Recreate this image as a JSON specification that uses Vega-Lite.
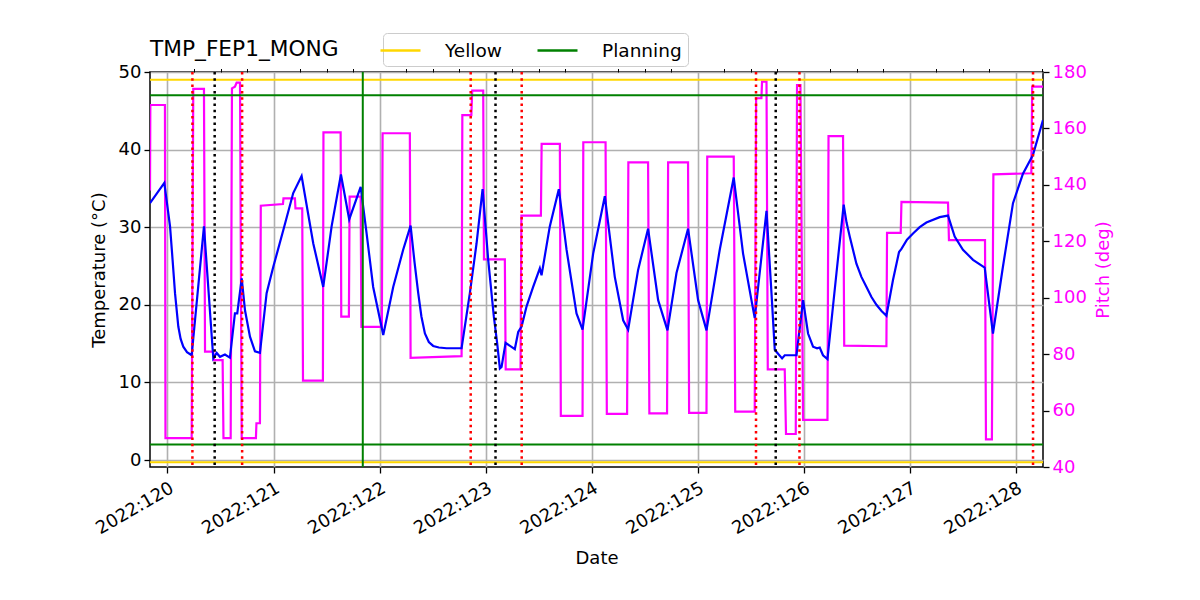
{
  "$schema": "https://vega.github.io/schema/vega-lite/v6.json",
  "width": 893,
  "height": 395,
  "autosize": {"type": "none"},
  "padding": {"left": 150, "top": 72, "right": 157, "bottom": 133},
  "background": "white",
  "title": {"text": "TMP_FEP1_MONG", "anchor": "start", "frame": "group", "fontSize": 21.7, "fontWeight": "normal", "font": "DejaVu Sans", "color": "black", "offset": -28},
  "config": {
    "font": "DejaVu Sans",
    "view": {"stroke": "black", "strokeWidth": 1.5},
    "axis": {
      "labelFont": "DejaVu Sans", "titleFont": "DejaVu Sans",
      "labelFontSize": 18, "titleFontSize": 18, "titleFontWeight": "normal",
      "labelColor": "black", "titleColor": "black", "tickColor": "black",
      "gridColor": "#b0b0b0", "gridWidth": 1.6, "tickWidth": 1.3, "tickSize": 6,
      "domain": false, "labelPadding": 3
    }
  },
  "datasets": {
    "temp": [
      {"day":119.835,"t":33.1},{"day":119.970,"t":35.7},{"day":120.024,"t":30.1},{"day":120.048,"t":25.8},{"day":120.071,"t":21.5},{"day":120.102,"t":17.2},{"day":120.124,"t":15.6},{"day":120.149,"t":14.6},{"day":120.184,"t":13.9},{"day":120.228,"t":13.5},{"day":120.344,"t":30.1},{"day":120.432,"t":13.1},{"day":120.464,"t":13.8},{"day":120.495,"t":13.3},{"day":120.542,"t":13.6},{"day":120.589,"t":13.2},{"day":120.636,"t":18.9},{"day":120.658,"t":18.9},{"day":120.700,"t":23.4},{"day":120.731,"t":19.3},{"day":120.778,"t":15.9},{"day":120.825,"t":14.0},{"day":120.872,"t":13.8},{"day":120.935,"t":21.5},{"day":120.998,"t":24.9},{"day":121.092,"t":29.6},{"day":121.186,"t":34.4},{"day":121.265,"t":36.6},{"day":121.375,"t":27.9},{"day":121.469,"t":22.3},{"day":121.548,"t":30.1},{"day":121.636,"t":36.8},{"day":121.714,"t":31.0},{"day":121.822,"t":35.2},{"day":121.878,"t":29.2},{"day":121.940,"t":22.3},{"day":122.035,"t":16.1},{"day":122.129,"t":22.3},{"day":122.223,"t":27.1},{"day":122.293,"t":30.2},{"day":122.330,"t":25.5},{"day":122.365,"t":21.5},{"day":122.395,"t":18.5},{"day":122.428,"t":16.3},{"day":122.465,"t":15.2},{"day":122.506,"t":14.7},{"day":122.560,"t":14.5},{"day":122.632,"t":14.4},{"day":122.774,"t":14.4},{"day":122.852,"t":21.5},{"day":122.915,"t":27.9},{"day":122.972,"t":34.9},{"day":123.025,"t":25.8},{"day":123.078,"t":18.5},{"day":123.110,"t":15.0},{"day":123.135,"t":11.8},{"day":123.151,"t":12.0},{"day":123.189,"t":15.1},{"day":123.276,"t":14.3},{"day":123.308,"t":16.5},{"day":123.340,"t":17.2},{"day":123.387,"t":19.8},{"day":123.449,"t":22.3},{"day":123.512,"t":24.7},{"day":123.528,"t":23.8},{"day":123.606,"t":30.1},{"day":123.691,"t":34.9},{"day":123.764,"t":27.1},{"day":123.858,"t":18.9},{"day":123.915,"t":16.8},{"day":124.015,"t":26.6},{"day":124.125,"t":34.0},{"day":124.219,"t":23.6},{"day":124.298,"t":18.0},{"day":124.345,"t":16.8},{"day":124.439,"t":24.5},{"day":124.533,"t":29.8},{"day":124.628,"t":20.6},{"day":124.716,"t":16.7},{"day":124.801,"t":24.1},{"day":124.910,"t":29.8},{"day":125.005,"t":20.6},{"day":125.084,"t":16.7},{"day":125.209,"t":27.1},{"day":125.341,"t":36.4},{"day":125.429,"t":26.6},{"day":125.508,"t":20.6},{"day":125.539,"t":18.3},{"day":125.650,"t":32.1},{"day":125.697,"t":21.5},{"day":125.728,"t":14.2},{"day":125.759,"t":13.7},{"day":125.797,"t":13.1},{"day":125.822,"t":13.5},{"day":125.933,"t":13.5},{"day":125.995,"t":20.6},{"day":126.042,"t":16.3},{"day":126.089,"t":14.6},{"day":126.127,"t":14.4},{"day":126.152,"t":14.5},{"day":126.183,"t":13.5},{"day":126.225,"t":13.0},{"day":126.310,"t":24.1},{"day":126.378,"t":32.9},{"day":126.405,"t":30.6},{"day":126.435,"t":28.8},{"day":126.498,"t":25.3},{"day":126.545,"t":23.6},{"day":126.593,"t":22.3},{"day":126.640,"t":21.0},{"day":126.687,"t":20.0},{"day":126.735,"t":19.2},{"day":126.781,"t":18.6},{"day":126.843,"t":23.2},{"day":126.900,"t":26.8},{"day":126.923,"t":27.2},{"day":126.975,"t":28.4},{"day":127.032,"t":29.2},{"day":127.095,"t":30.0},{"day":127.158,"t":30.6},{"day":127.284,"t":31.3},{"day":127.362,"t":31.5},{"day":127.425,"t":28.8},{"day":127.503,"t":27.1},{"day":127.598,"t":25.8},{"day":127.708,"t":24.8},{"day":127.786,"t":16.3},{"day":127.880,"t":24.9},{"day":127.975,"t":33.1},{"day":128.069,"t":36.9},{"day":128.163,"t":39.3},{"day":128.258,"t":43.8}
    ],
    "pitch": [
      {"day":119.835,"p":138.0},{"day":119.838,"p":168.3},{"day":119.976,"p":168.3},{"day":119.981,"p":50.2},{"day":120.228,"p":50.2},{"day":120.243,"p":174.0},{"day":120.344,"p":174.0},{"day":120.354,"p":80.9},{"day":120.432,"p":80.9},{"day":120.438,"p":77.9},{"day":120.520,"p":77.9},{"day":120.528,"p":50.2},{"day":120.596,"p":50.2},{"day":120.608,"p":174.2},{"day":120.636,"p":174.8},{"day":120.652,"p":176.2},{"day":120.684,"p":176.2},{"day":120.700,"p":50.2},{"day":120.834,"p":50.2},{"day":120.839,"p":55.5},{"day":120.872,"p":55.5},{"day":120.880,"p":132.6},{"day":121.089,"p":133.2},{"day":121.094,"p":135.2},{"day":121.202,"p":135.2},{"day":121.207,"p":131.7},{"day":121.271,"p":131.7},{"day":121.278,"p":70.6},{"day":121.466,"p":70.6},{"day":121.471,"p":158.6},{"day":121.633,"p":158.6},{"day":121.639,"p":93.3},{"day":121.711,"p":93.3},{"day":121.718,"p":135.8},{"day":121.822,"p":135.8},{"day":121.829,"p":89.7},{"day":122.022,"p":89.7},{"day":122.029,"p":158.3},{"day":122.286,"p":158.3},{"day":122.293,"p":78.7},{"day":122.774,"p":79.3},{"day":122.781,"p":164.7},{"day":122.866,"p":164.7},{"day":122.874,"p":173.4},{"day":122.978,"p":173.4},{"day":122.985,"p":113.6},{"day":123.182,"p":113.6},{"day":123.190,"p":74.6},{"day":123.330,"p":74.6},{"day":123.338,"p":129.1},{"day":123.522,"p":129.1},{"day":123.529,"p":154.5},{"day":123.701,"p":154.5},{"day":123.710,"p":58.1},{"day":123.915,"p":58.1},{"day":123.922,"p":155.1},{"day":124.132,"p":155.1},{"day":124.144,"p":58.8},{"day":124.335,"p":58.8},{"day":124.347,"p":148.0},{"day":124.533,"p":148.0},{"day":124.545,"p":59.0},{"day":124.712,"p":59.0},{"day":124.722,"p":148.0},{"day":124.910,"p":148.0},{"day":124.920,"p":59.2},{"day":125.084,"p":59.2},{"day":125.091,"p":150.0},{"day":125.341,"p":150.0},{"day":125.355,"p":59.6},{"day":125.539,"p":59.6},{"day":125.552,"p":170.7},{"day":125.602,"p":170.7},{"day":125.608,"p":176.6},{"day":125.650,"p":176.6},{"day":125.662,"p":74.6},{"day":125.822,"p":74.6},{"day":125.834,"p":51.7},{"day":125.926,"p":51.7},{"day":125.938,"p":175.4},{"day":125.970,"p":175.4},{"day":125.995,"p":56.7},{"day":126.225,"p":56.7},{"day":126.235,"p":157.3},{"day":126.372,"p":157.3},{"day":126.383,"p":83.0},{"day":126.781,"p":82.8},{"day":126.787,"p":123.0},{"day":126.916,"p":123.0},{"day":126.923,"p":134.0},{"day":127.362,"p":133.7},{"day":127.371,"p":120.4},{"day":127.711,"p":120.4},{"day":127.720,"p":49.8},{"day":127.776,"p":49.8},{"day":127.790,"p":143.7},{"day":128.148,"p":144.1},{"day":128.156,"p":174.8},{"day":128.258,"p":174.8}
    ],
    "limits": [
      {"name": "Yellow", "v": 49.0},
      {"name": "Yellow", "v": -0.3},
      {"name": "Planning", "v": 47.0},
      {"name": "Planning", "v": 2.0}
    ],
    "vlines": [
      {"day": 120.235, "kind": "red"},
      {"day": 120.704, "kind": "red"},
      {"day": 122.860, "kind": "red"},
      {"day": 123.341, "kind": "red"},
      {"day": 125.551, "kind": "red"},
      {"day": 125.961, "kind": "red"},
      {"day": 128.164, "kind": "red"},
      {"day": 120.445, "kind": "black"},
      {"day": 123.094, "kind": "black"},
      {"day": 125.737, "kind": "black"},
      {"day": 121.842, "kind": "green"}
    ]
  },
  "layer": [
    {
      "data": {"name": "pitch"},
      "mark": {"type": "line", "color": "#ff00ff", "strokeWidth": 2.2, "clip": true},
      "encoding": {
        "x": {"field": "day", "type": "quantitative", "scale": {"domain": [119.835, 128.258], "nice": false, "zero": false}, "axis": null},
        "y": {"field": "p", "type": "quantitative", "scale": {"domain": [40, 180], "nice": false, "zero": false},
          "axis": {"orient": "right", "title": "Pitch (deg)", "values": [40, 60, 80, 100, 120, 140, 160, 180], "grid": false, "labelColor": "#ff00ff", "titleColor": "#ff00ff", "titleAngle": -90, "titleBaseline": "top", "titlePadding": 8}}
      }
    },
    {
      "layer": [
        {
          "data": {"name": "limits"},
          "mark": {"type": "rule", "strokeWidth": 2},
          "encoding": {
            "y": {"field": "v", "type": "quantitative", "scale": {"domain": [-0.9, 50], "nice": false, "zero": false},
              "axis": {"orient": "left", "values": [0, 10, 20, 30, 40, 50], "title": "Temperature (°C)", "grid": true, "titlePadding": 10}},
            "color": {"field": "name", "type": "nominal", "scale": {"domain": ["Yellow", "Planning"], "range": ["#ffd700", "#008000"]},
              "legend": {"orient": "none", "legendX": 233, "legendY": -39, "direction": "horizontal", "title": null,
                "symbolType": "M-2,0H2", "symbolSize": 400, "symbolStrokeWidth": 2.5, "labelFontSize": 18.5, "labelFont": "DejaVu Sans", "labelColor": "black",
                "labelOffset": 33, "columnPadding": 30, "padding": 6, "strokeColor": "#cccccc", "cornerRadius": 4, "fillColor": "white"}}
          }
        },
        {
          "data": {"name": "temp"},
          "mark": {"type": "line", "color": "#0000ff", "strokeWidth": 2.2, "clip": true},
          "encoding": {
            "x": {"field": "day", "type": "quantitative",
              "axis": {"values": [120, 121, 122, 123, 124, 125, 126, 127, 128], "labelExpr": "'2022:' + datum.value", "labelAngle": -30, "labelAlign": "right", "labelBaseline": "top", "labelPadding": 6, "grid": true, "title": "Date", "titlePadding": 12}},
            "y": {"field": "t", "type": "quantitative",
              "axis": {"orient": "left", "values": [0, 10, 20, 30, 40, 50], "title": "Temperature (°C)", "grid": true, "titlePadding": 10}}
          }
        },
        {
          "data": {"name": "vlines"},
          "transform": [{"filter": "datum.kind == 'red'"}],
          "mark": {"type": "rule", "color": "#ff0000", "strokeWidth": 2.5, "strokeDash": [2.5, 3.8]},
          "encoding": {
            "x": {"field": "day", "type": "quantitative",
              "axis": {"values": [120.25, 120.5, 120.75, 121.25, 121.5, 121.75, 122.25, 122.5, 122.75, 123.25, 123.5, 123.75, 124.25, 124.5, 124.75, 125.25, 125.5, 125.75, 126.25, 126.5, 126.75, 127.25, 127.5, 127.75, 128.25], "labels": false, "grid": false, "tickSize": 3.5, "tickWidth": 1, "title": null}}
          }
        },
        {
          "data": {"name": "vlines"},
          "transform": [{"filter": "datum.kind == 'black'"}],
          "mark": {"type": "rule", "color": "#000000", "strokeWidth": 2.5, "strokeDash": [2.5, 3.8]},
          "encoding": {
            "x": {"field": "day", "type": "quantitative", "axis": null}
          }
        },
        {
          "data": {"name": "vlines"},
          "transform": [{"filter": "datum.kind == 'green'"}],
          "mark": {"type": "rule", "color": "#008000", "strokeWidth": 2},
          "encoding": {
            "x": {"field": "day", "type": "quantitative", "axis": null}
          }
        }
      ],
      "resolve": {"axis": {"x": "independent"}}
    }
  ],
  "resolve": {"scale": {"y": "independent"}, "axis": {"x": "independent"}}
}
